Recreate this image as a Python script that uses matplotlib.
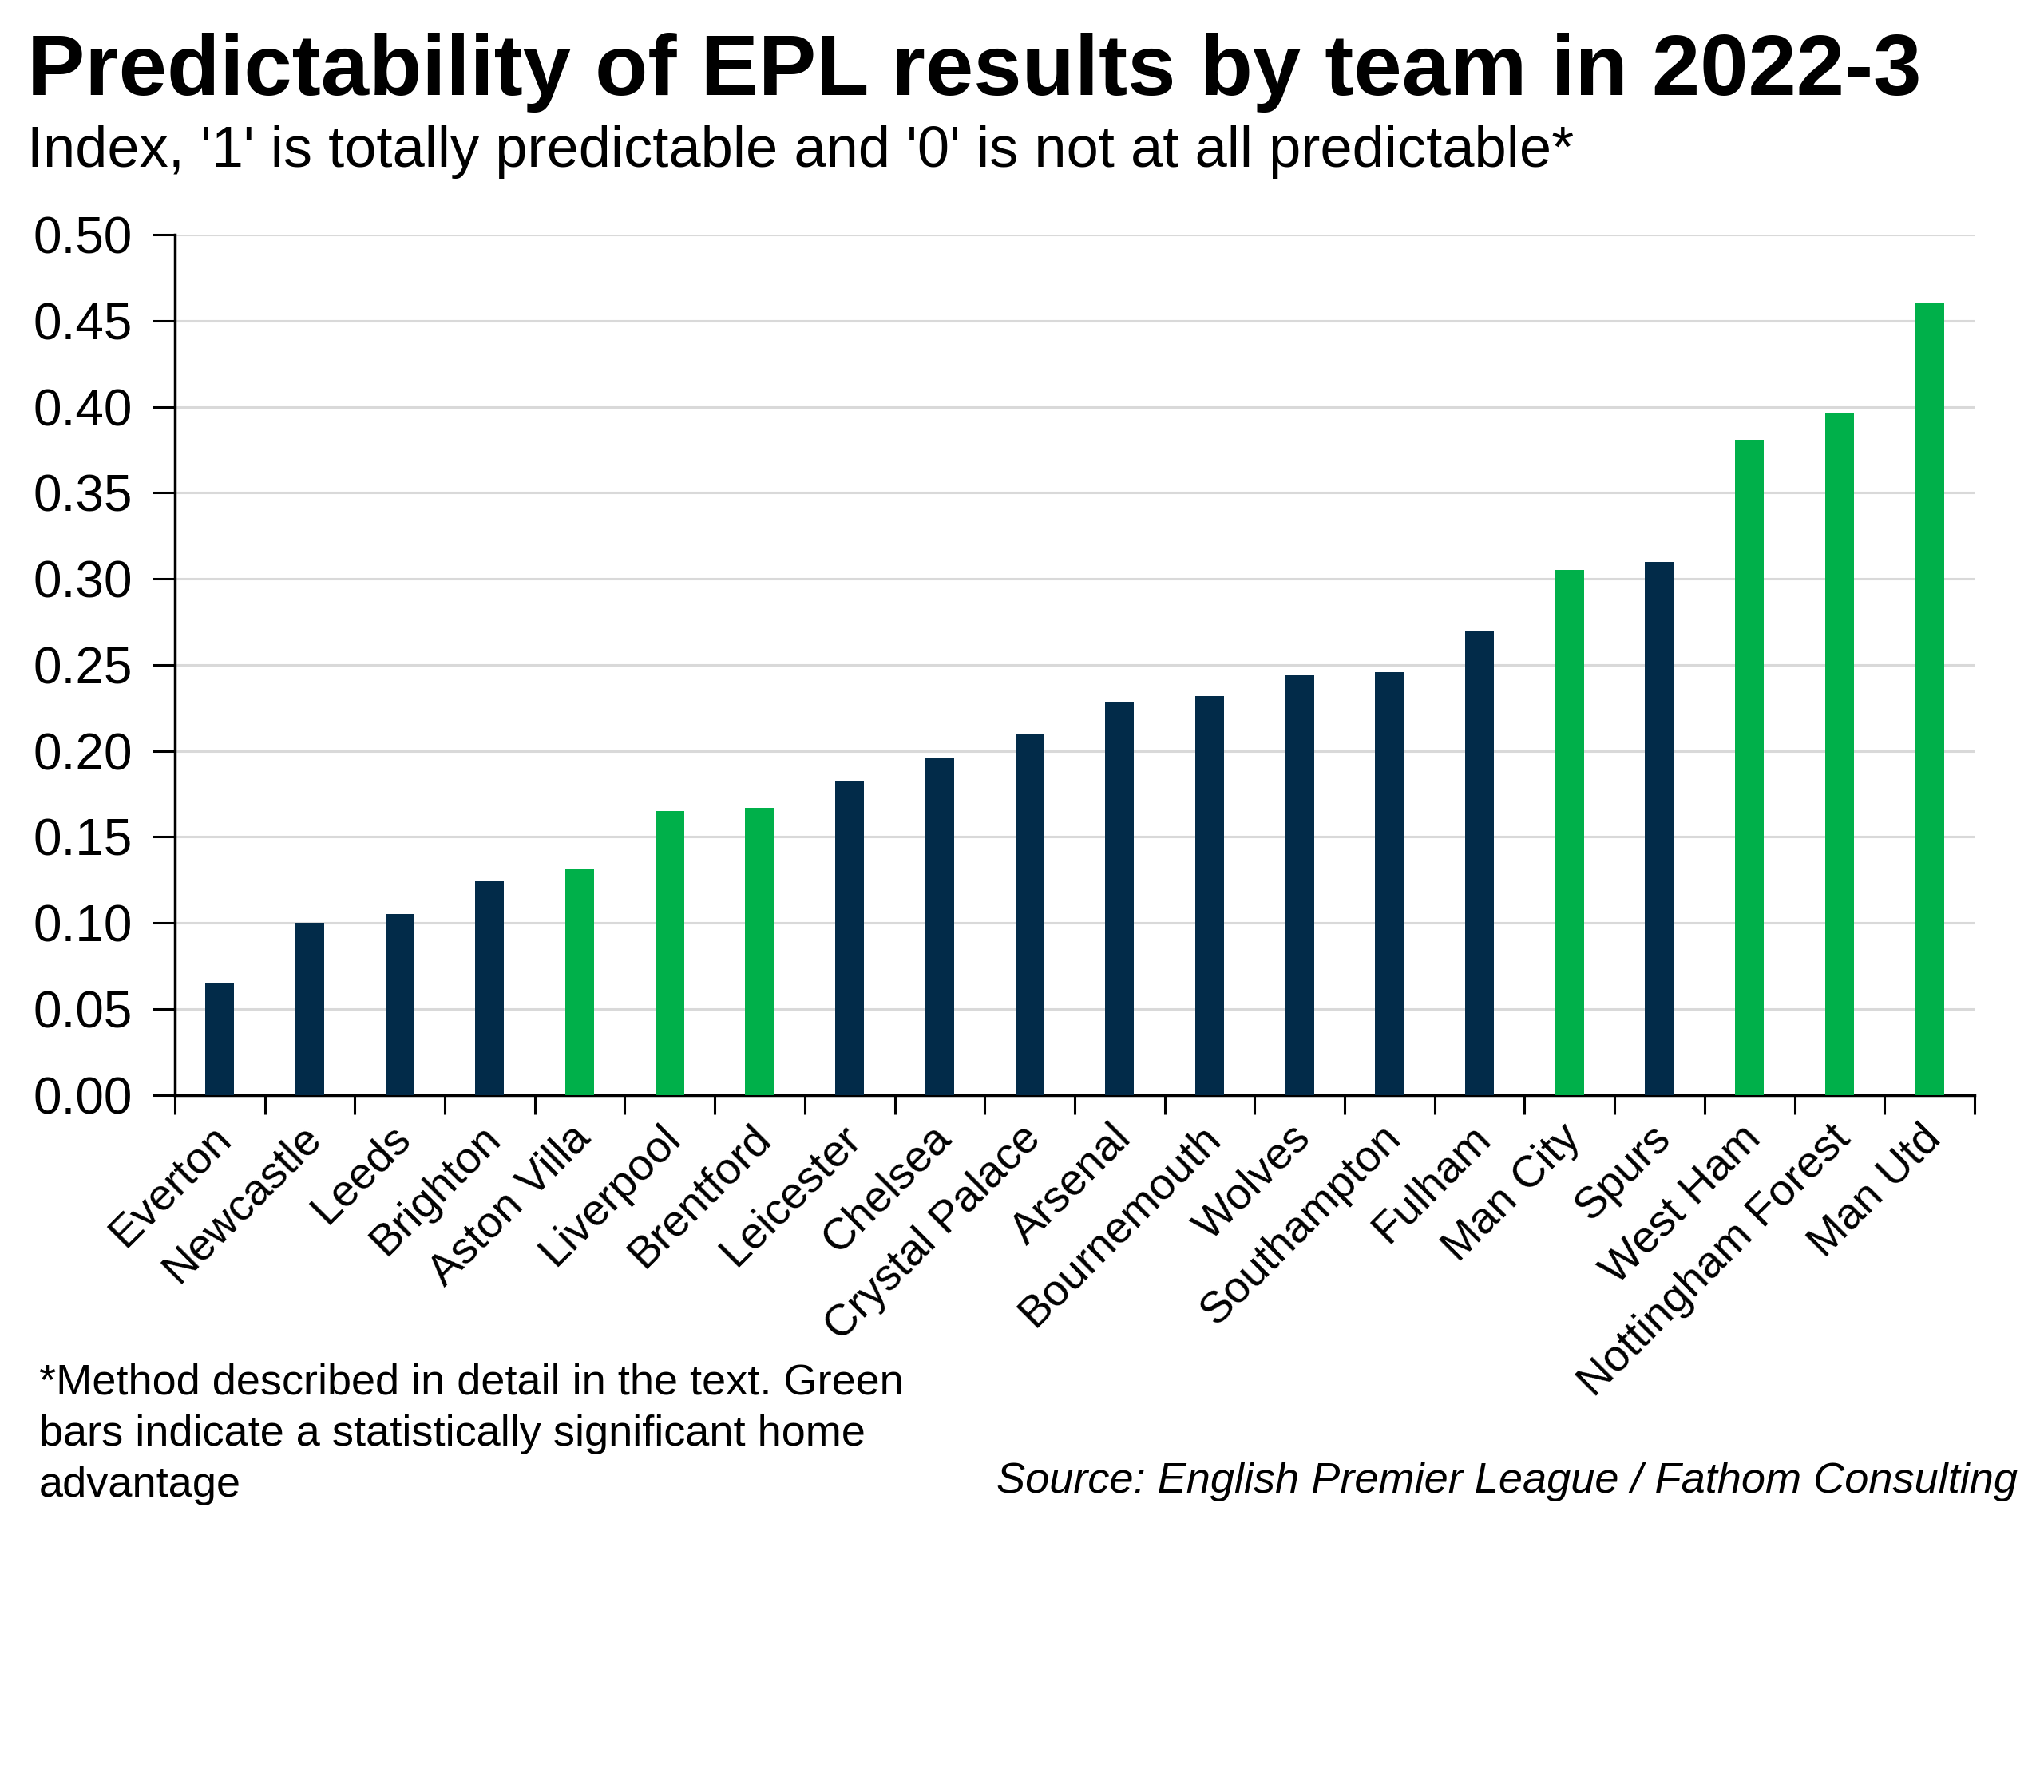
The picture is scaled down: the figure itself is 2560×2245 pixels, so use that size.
import numpy as np
import matplotlib.pyplot as plt

plt.rcParams['font.family'] = ['Liberation Sans', 'DejaVu Sans']

# data
teams = ["Everton", "Newcastle", "Leeds", "Brighton", "Aston Villa", "Liverpool",
         "Brentford", "Leicester", "Chelsea", "Crystal Palace", "Arsenal",
         "Bournemouth", "Wolves", "Southampton", "Fulham", "Man City", "Spurs",
         "West Ham", "Nottingham Forest", "Man Utd"]
index_vals = [0.065, 0.100, 0.105, 0.124, 0.131, 0.165, 0.167, 0.182, 0.196,
              0.210, 0.228, 0.232, 0.244, 0.246, 0.270, 0.305, 0.310, 0.381,
              0.396, 0.460]
# True = statistically significant home advantage (green bars)
home_adv = [False, False, False, False, True, True, True, False, False, False,
            False, False, False, False, False, True, False, True, True, True]

navy = "#022b49"
green = "#00b04a"
colors = [green if h else navy for h in home_adv]

fig = plt.figure(figsize=(25.6, 22.45), dpi=100)
ax = fig.add_axes([0.0855, 0.389, 0.8805, 0.480])

x = np.arange(len(teams))
ax.bar(x, index_vals, width=0.32, color=colors, zorder=3)

ax.set_xlim(-0.5, len(teams) - 0.5)
ax.set_ylim(0, 0.5)
ax.set_yticks(np.arange(0, 0.51, 0.05))
ax.set_yticklabels([f"{v:.2f}" for v in np.arange(0, 0.51, 0.05)], fontsize=46)
ax.yaxis.grid(True, color="#d9d9d9", linewidth=2.2, zorder=0)
ax.tick_params(axis="y", direction="out", length=20, width=2.2, pad=18)

# ticks between categories, labels under bars
ax.set_xticks(np.arange(-0.5, len(teams), 1.0))
ax.set_xticklabels([])
ax.tick_params(axis="x", direction="out", length=17, width=2.2)
for xi, name in zip(x, teams):
    ax.text(xi - 0.11, -0.013, name, rotation=45, rotation_mode="anchor",
            ha="right", va="top", fontsize=40, transform=ax.transData)

for side in ["top", "right"]:
    ax.spines[side].set_visible(False)
ax.spines["left"].set_linewidth(2.5)
ax.spines["bottom"].set_linewidth(2.5)

fig.text(0.0131, 0.947, "Predictability of EPL results by team in 2022-3",
         fontsize=78, fontweight="bold", va="baseline")
fig.text(0.0131, 0.907, "Index, '1' is totally predictable and '0' is not at all predictable*",
         fontsize=52, va="baseline")
fig.text(0.019, 0.165,
         "*Method described in detail in the text. Green\nbars indicate a statistically significant home\nadvantage",
         fontsize=39, va="baseline", linespacing=1.36)
fig.text(0.987, 0.167, "Source: English Premier League / Fathom Consulting",
         fontsize=39, style="italic", ha="right", va="baseline")

fig.savefig("out.png", dpi=100, facecolor="white")
